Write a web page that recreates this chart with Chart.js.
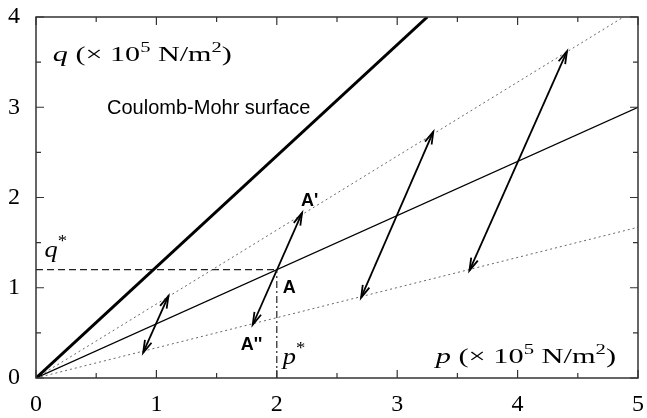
<!DOCTYPE html>
<html>
<head>
<meta charset="utf-8">
<script src="https://cdn.jsdelivr.net/npm/chart.js@4"></script>
<style>
  html, body { margin: 0; padding: 0; background: #fff; }
  #wrap { width: 647px; height: 418px; }
</style>
</head>
<body>
<div id="wrap"><canvas id="chart" width="647" height="418"></canvas></div>
<script>
// axis ranges and tick labels
const pTicks = [0, 1, 2, 3, 4, 5];
const qTicks = [0, 1, 2, 3, 4];

// Coulomb-Mohr surface (thick line)
const coulombP = [0, 3.25];
const coulombQ = [0, 4];
// stress path through A (thin solid)
const pathP = [0, 5];
const pathQ = [0, 3];
// upper / lower dotted bounds
const upperP = [0, 4.88];
const upperQ = [0, 4];
const lowerP = [0, 5];
const lowerQ = [0, 1.67];
// q* and p* guides
const qStarP = [0, 2];
const qStarQ = [1.2, 1.2];
const pStarP = [2, 2];
const pStarQ = [0, 1.2];
// double-headed arrows (lower end -> upper end)
const arrowFromP = [0.89, 1.80, 2.70, 3.60];
const arrowFromQ = [0.28, 0.59, 0.89, 1.19];
const arrowToP = [1.10, 2.21, 3.30, 4.41];
const arrowToQ = [0.91, 1.83, 2.73, 3.62];

const serif = 'Liberation Serif';
const sans = 'Liberation Sans';

function pts(xs, ys) {
    return xs.map((x, i) => ({ x: x, y: ys[i] }));
}

function unitLabel(sym) {
    return [
        { t: sym, font: 'italic 22px ' + serif },
        { t: ' (\u00d7 10', font: '22px ' + serif },
        { t: '5', font: '15px ' + serif, dy: -9 },
        { t: ' N/m', font: '22px ' + serif },
        { t: '2', font: '15px ' + serif, dy: -9 },
        { t: ')', font: '22px ' + serif },
    ];
}

// stretch: horizontal scale of the text (the serif captions are wide in the original)
const notes = [
    { p: 0.14, q: 3.51, stretch: 1.37, parts: unitLabel('q') },
    { p: 3.32, q: 0.17, stretch: 1.38, parts: unitLabel('p') },
    { p: 0.59, q: 2.92, parts: [{ t: 'Coulomb-Mohr surface', font: '20px ' + sans }] },
    { p: 2.20, q: 1.91, parts: [{ t: "A'", font: 'bold 18px ' + sans }] },
    { p: 2.05, q: 0.94, parts: [{ t: 'A', font: 'bold 18px ' + sans }] },
    { p: 1.70, q: 0.31, parts: [{ t: "A''", font: 'bold 18px ' + sans }] },
    { p: 0.07, q: 1.34, stretch: 1.1, parts: [{ t: 'q', font: 'italic 24px ' + serif }, { t: '*', font: '17px ' + serif, dy: -11 }] },
    { p: 2.05, q: 0.15, stretch: 1.1, parts: [{ t: 'p', font: 'italic 24px ' + serif }, { t: '*', font: '17px ' + serif, dy: -11 }] },
];

const datasets = [
    { data: pts(coulombP, coulombQ), borderColor: '#000', borderWidth: 3 },
    { data: pts(pathP, pathQ), borderColor: '#000', borderWidth: 1.2 },
    { data: pts(upperP, upperQ), borderColor: '#666', borderWidth: 1, borderDash: [2, 3] },
    { data: pts(lowerP, lowerQ), borderColor: '#666', borderWidth: 1, borderDash: [2, 3] },
    { data: pts(qStarP, qStarQ), borderColor: '#222', borderWidth: 1.2, borderDash: [7, 4] },
    { data: pts(pStarP, pStarQ), borderColor: '#222', borderWidth: 1.2, borderDash: [7, 3, 2, 3] },
];
arrowFromP.forEach((p, i) => {
    datasets.push({
        data: pts([p, arrowToP[i]], [arrowFromQ[i], arrowToQ[i]]),
        borderColor: '#000', borderWidth: 1.8, arrow: true,
    });
});
datasets.forEach(d => {
    d.showLine = true;
    d.pointRadius = 0;
    d.pointHoverRadius = 0;
    d.fill = false;
});

function drawHead(ctx, from, to) {
    const ang = Math.atan2(to.y - from.y, to.x - from.x);
    const len = 13, spread = 0.28;
    ctx.beginPath();
    ctx.moveTo(to.x - len * Math.cos(ang - spread), to.y - len * Math.sin(ang - spread));
    ctx.lineTo(to.x, to.y);
    ctx.lineTo(to.x - len * Math.cos(ang + spread), to.y - len * Math.sin(ang + spread));
    ctx.stroke();
}

const decorations = {
    id: 'decorations',
    afterDatasetsDraw(chart) {
        const ctx = chart.ctx;
        const xs = chart.scales.x, ys = chart.scales.y;
        const a = chart.chartArea;
        ctx.save();

        // arrowheads on both ends
        chart.data.datasets.forEach((d, i) => {
            if (!d.arrow) return;
            const m = chart.getDatasetMeta(i).data;
            ctx.strokeStyle = '#000';
            ctx.lineWidth = 1.8;
            ctx.setLineDash([]);
            drawHead(ctx, m[0], m[1]);
            drawHead(ctx, m[1], m[0]);
        });

        // frame
        ctx.strokeStyle = '#333';
        ctx.lineWidth = 1.5;
        ctx.strokeRect(a.left, a.top, a.right - a.left, a.bottom - a.top);

        // inward ticks on all four sides
        ctx.lineWidth = 1.2;
        ctx.beginPath();
        for (let v = xs.min; v <= xs.max + 1e-9; v += 0.5) {
            const px = xs.getPixelForValue(v);
            const L = Number.isInteger(v) ? 8 : 5;
            ctx.moveTo(px, a.bottom); ctx.lineTo(px, a.bottom - L);
            ctx.moveTo(px, a.top); ctx.lineTo(px, a.top + L);
        }
        for (let v = ys.min; v <= ys.max + 1e-9; v += 0.5) {
            const py = ys.getPixelForValue(v);
            const L = Number.isInteger(v) ? 8 : 5;
            ctx.moveTo(a.left, py); ctx.lineTo(a.left + L, py);
            ctx.moveTo(a.right, py); ctx.lineTo(a.right - L, py);
        }
        ctx.stroke();

        // text annotations
        ctx.fillStyle = '#000';
        ctx.textBaseline = 'alphabetic';
        ctx.textAlign = 'left';
        notes.forEach(n => {
            const sx = n.stretch || 1;
            ctx.save();
            ctx.translate(xs.getPixelForValue(n.p), ys.getPixelForValue(n.q));
            ctx.scale(sx, 1);
            let x = 0;
            n.parts.forEach(s => {
                ctx.font = s.font;
                ctx.fillText(s.t, x, s.dy || 0);
                x += ctx.measureText(s.t).width;
            });
            ctx.restore();
        });
        ctx.restore();
    }
};

new Chart(document.getElementById('chart'), {
    type: 'scatter',
    data: { datasets: datasets },
    options: {
        responsive: false,
        animation: false,
        events: [],
        layout: { padding: { top: 17, right: 9, left: 0, bottom: 0 } },
        plugins: { legend: { display: false }, tooltip: { enabled: false } },
        elements: { line: { tension: 0 } },
        scales: {
            x: {
                type: 'linear',
                min: pTicks[0],
                max: pTicks[pTicks.length - 1],
                afterFit: s => { s.height = 40; s.paddingLeft = 0; s.paddingRight = 0; },
                afterBuildTicks: s => { s.ticks = pTicks.map(v => ({ value: v })); },
                grid: { display: false, drawTicks: false },
                border: { display: false },
                ticks: { color: '#000', padding: 12, font: { family: serif, size: 24 } },
            },
            y: {
                type: 'linear',
                min: qTicks[0],
                max: qTicks[qTicks.length - 1],
                afterFit: s => { s.width = 36; s.paddingTop = 0; s.paddingBottom = 0; },
                afterBuildTicks: s => { s.ticks = qTicks.map(v => ({ value: v })); },
                grid: { display: false, drawTicks: false },
                border: { display: false },
                ticks: { color: '#000', padding: 16, font: { family: serif, size: 24 } },
            },
        },
    },
    plugins: [decorations],
});
</script>
</body>
</html>
